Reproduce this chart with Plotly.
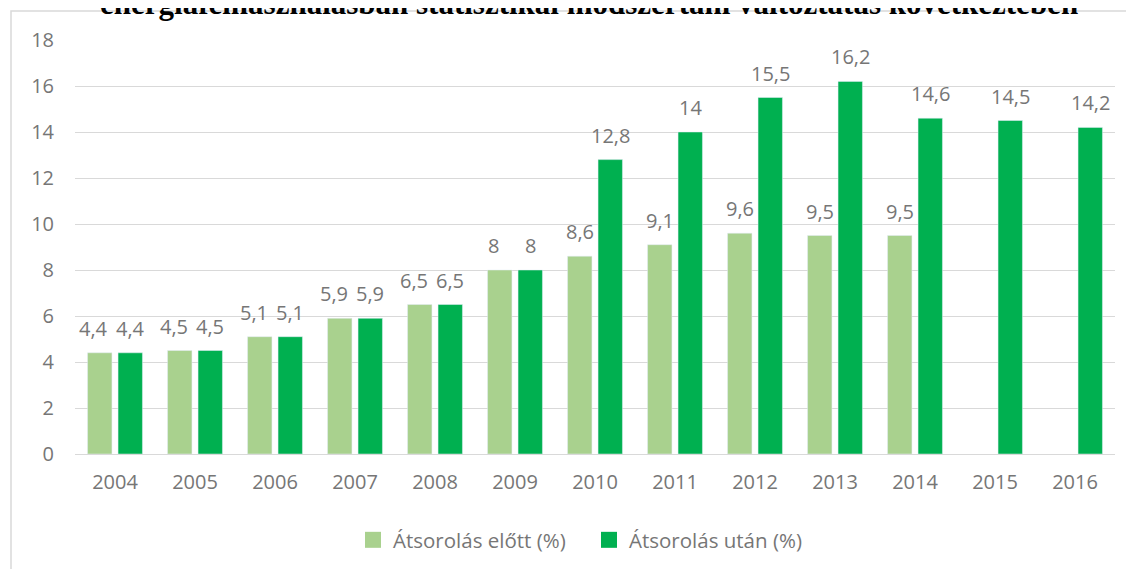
import plotly.graph_objects as go

years = ["2004", "2005", "2006", "2007", "2008", "2009", "2010",
         "2011", "2012", "2013", "2014", "2015", "2016"]
before = [4.4, 4.5, 5.1, 5.9, 6.5, 8, 8.6, 9.1, 9.6, 9.5, 9.5, None, None]
after = [4.4, 4.5, 5.1, 5.9, 6.5, 8, 12.8, 14, 15.5, 16.2, 14.6, 14.5, 14.2]
name_before = "Átsorolás előtt (%)"
name_after = "Átsorolás után (%)"
title_text = "energiafelhasználásban statisztikai módszertani változtatás következtében"

LIGHT = "#a9d18e"
DARK = "#00b050"
GRAY = "#767676"
FONT = "Open Sans"
FS = 20

# page body has an 8px margin: the figure is drawn 8px right/down
OFF = 8
W, H = 1134 - OFF, 569 - OFF
L, R = 75 - OFF, 1115 - OFF
T, B = 40 - OFF, 454 - OFF
PLOT_W = R - L
PLOT_H = B - T

BARGAP = 0.2375
BARGROUPGAP = 0.2
cat_w = PLOT_W / len(years)
slot = cat_w * (1 - BARGAP) / 2


def fmt(v):
    if v is None:
        return ""
    if float(v).is_integer():
        return str(int(v))
    return str(v).replace(".", ",")


def px_x(p):
    return (p - OFF - L) / PLOT_W


def px_y(p):
    return (B - (p - OFF)) / PLOT_H


fig = go.Figure()
fig.add_trace(go.Bar(x=years, y=before, name=name_before, marker_color=LIGHT,
                     showlegend=False))
fig.add_trace(go.Bar(x=years, y=after, name=name_after, marker_color=DARK,
                     showlegend=False))
# legend entries with larger square symbols
fig.add_trace(go.Scatter(x=[years[0]], y=[None], mode="markers", name=name_before,
                         marker=dict(symbol="square", size=16, color=LIGHT)))
fig.add_trace(go.Scatter(x=[years[0]], y=[None], mode="markers", name=name_after,
                         marker=dict(symbol="square", size=16, color=DARK)))

annotations = []
for i, (vb, va) in enumerate(zip(before, after)):
    # side-by-side labels at the same height are nudged apart (as the original does)
    clash = vb is not None and va is not None and abs(vb - va) < 1
    for v, shift in ((vb, -slot / 2 - (6 if clash else 0)), (va, slot / 2)):
        if v is None:
            continue
        # category axis: annotation x given as category index
        annotations.append(dict(x=i, y=v, xref="x", yref="y", text=fmt(v),
                                showarrow=False, xshift=shift, yshift=9,
                                yanchor="bottom",
                                font=dict(family=FONT, size=FS, color=GRAY)))

annotations.append(dict(x=px_x(589), y=px_y(3), xref="paper", yref="paper",
                        text="<b>" + title_text + "</b>", showarrow=False,
                        xanchor="center", yanchor="middle",
                        font=dict(family="Liberation Serif", size=31, color="#000000")))

fig.update_layout(
    width=W, height=H,
    margin=dict(l=L, r=W - R, t=T, b=H - B, autoexpand=False),
    paper_bgcolor="white", plot_bgcolor="white",
    barmode="group", bargap=BARGAP, bargroupgap=BARGROUPGAP,
    font=dict(family=FONT, size=FS, color=GRAY),
    annotations=annotations,
    legend=dict(orientation="h", x=px_x(353), xanchor="left",
                y=px_y(540), yanchor="middle",
                entrywidth=191, entrywidthmode="pixels",
                font=dict(family=FONT, size=20.5, color=GRAY),
                itemclick=False, traceorder="normal"),
    shapes=[dict(type="rect", xref="paper", yref="paper",
                 x0=px_x(11), x1=1.2, y0=-0.5, y1=px_y(11),
                 line=dict(color="#d9d9d9", width=1.5), fillcolor="rgba(0,0,0,0)",
                 layer="below")],
)
fig.update_xaxes(type="category", range=[-0.5, len(years) - 0.5],
                 showgrid=False, showline=False, ticks="", zeroline=False,
                 ticklabelstandoff=14,
                 tickfont=dict(family=FONT, size=FS, color=GRAY))
fig.update_yaxes(range=[0, 18], dtick=2, showgrid=True, gridcolor="#d9d9d9",
                 gridwidth=1.3, zeroline=True, zerolinecolor="#d9d9d9",
                 zerolinewidth=1.3, showline=False, ticks="",
                 ticklabelstandoff=20,
                 tickfont=dict(family=FONT, size=FS, color=GRAY))

fig.write_html("out.html")
